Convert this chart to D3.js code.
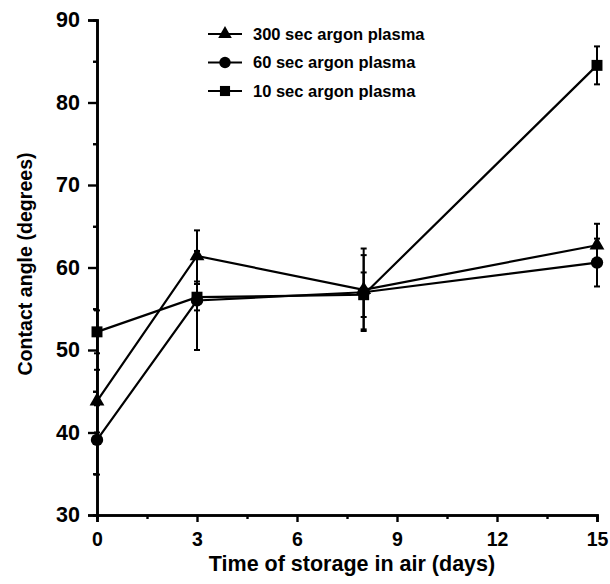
<!DOCTYPE html>
<html>
<head>
<meta charset="utf-8">
<script src="https://cdn.jsdelivr.net/npm/d3@7"></script>
<style>
  body { margin: 0; background: #fff; }
  text { font-family: "Liberation Sans", Arial, sans-serif; font-weight: bold; fill: #000; }
</style>
</head>
<body>
<div id="chart"></div>
<script>
// days of storage
const days = [0, 3, 8, 15];

// contact angle (degrees) per treatment, with error
const argon300 = [43.8, 61.4, 57.3, 62.7];
const argon300Err = [3.8, 3.1, 5.0, 2.6];
const argon60 = [39.1, 56.0, 57.0, 60.6];
const argon60Err = [4.2, 6.0, 4.5, 2.9];
const argon10 = [52.2, 56.4, 56.7, 84.5];
const argon10Err = [2.6, 1.6, 2.7, 2.3];

const seriesNames = ["300 sec argon plasma", "60 sec argon plasma", "10 sec argon plasma"];
const xTicks = [0, 3, 6, 9, 12, 15];
const yTicks = [30, 40, 50, 60, 70, 80, 90];

const series = [
  { name: seriesNames[0], values: argon300, err: argon300Err, symbol: d3.symbolTriangle, size: 95 },
  { name: seriesNames[1], values: argon60, err: argon60Err, symbol: d3.symbolCircle, size: 120 },
  { name: seriesNames[2], values: argon10, err: argon10Err, symbol: d3.symbolSquare, size: 120 }
];

const width = 610, height = 584;
const x = d3.scaleLinear().domain([0, 15]).range([97, 597]);
const y = d3.scaleLinear().domain([30, 90]).range([515, 20]);

const svg = d3.select("#chart").append("svg")
  .attr("width", width)
  .attr("height", height);

/* error bars */
const errG = svg.append("g");
series.forEach(s => {
  s.values.forEach((v, i) => {
    const cx = x(days[i]);
    const g = errG.append("g").attr("stroke", "#000").attr("stroke-width", 2);
    g.append("line").attr("x1", cx).attr("x2", cx).attr("y1", y(v - s.err[i])).attr("y2", y(v + s.err[i]));
    [v - s.err[i], v + s.err[i]].forEach(e => {
      g.append("line").attr("x1", cx - 3).attr("x2", cx + 3).attr("y1", y(e)).attr("y2", y(e));
    });
  });
});

/* lines */
const line = d3.line()
  .x((d, i) => x(days[i]))
  .y(d => y(d));

svg.append("g").selectAll("path")
  .data(series).enter()
  .append("path")
  .attr("d", d => line(d.values))
  .attr("fill", "none")
  .attr("stroke", "#000")
  .attr("stroke-width", 2.2);

/* axes */
const xAxis = d3.axisBottom(x).tickValues(xTicks).tickSize(7).tickPadding(10).tickFormat(d3.format("d"));
const xMinor = d3.axisBottom(x).tickValues(d3.range(1.5, 15, 3)).tickSize(4).tickFormat("");
const yAxis = d3.axisLeft(y).tickValues(yTicks).tickSize(9).tickPadding(8);
const yMinor = d3.axisLeft(y).tickValues(d3.range(35, 90, 10)).tickSize(4).tickFormat("");

const gx = svg.append("g").attr("transform", `translate(0, ${y(30)})`).call(xAxis);
svg.append("g").attr("transform", `translate(0, ${y(30)})`).call(xMinor);
const gy = svg.append("g").attr("transform", `translate(${x(0)}, 0)`).call(yAxis);
svg.append("g").attr("transform", `translate(${x(0)}, 0)`).call(yMinor);

svg.selectAll(".domain").attr("stroke-width", 2.6).attr("stroke", "#000");
svg.selectAll(".tick line").attr("stroke-width", 2.4).attr("stroke", "#000");
gx.selectAll(".tick text").attr("font-size", 19.5);
gy.selectAll(".tick text").attr("font-size", 21.5);

/* markers */
series.forEach(s => {
  svg.append("g").selectAll("path")
    .data(s.values).enter()
    .append("path")
    .attr("transform", (d, i) => `translate(${x(days[i])}, ${y(d)})`)
    .attr("d", d3.symbol().type(s.symbol).size(s.size))
    .attr("fill", "#000");
});

/* axis titles */
svg.append("text")
  .attr("x", 352).attr("y", 571)
  .attr("text-anchor", "middle")
  .attr("font-size", 21.5)
  .text("Time of storage in air (days)");

svg.append("text")
  .attr("transform", "translate(32, 264) rotate(-90)")
  .attr("text-anchor", "middle")
  .attr("font-size", 19.6)
  .text("Contact angle (degrees)");

/* legend */
const legend = svg.append("g");
series.forEach((s, i) => {
  const ly = 34 + i * 28.5;
  legend.append("line")
    .attr("x1", 208).attr("x2", 242).attr("y1", ly).attr("y2", ly)
    .attr("stroke", "#000").attr("stroke-width", 2.2);
  legend.append("path")
    .attr("transform", `translate(225, ${ly})`)
    .attr("d", d3.symbol().type(s.symbol).size(s.size * 0.85))
    .attr("fill", "#000");
  legend.append("text")
    .attr("x", 253).attr("y", ly + 5.5)
    .attr("font-size", 16.5)
    .text(s.name);
});
</script>
</body>
</html>
